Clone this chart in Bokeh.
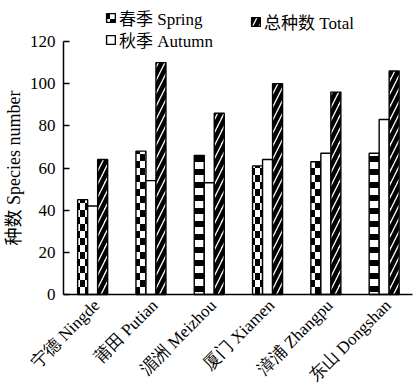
import math
from bokeh.plotting import figure
from bokeh.models import (FixedTicker, Legend, LegendItem, CanvasTexture,
                          ColumnDataSource, LabelSet, LinearAxis)
from bokeh.embed import file_html
from bokeh.resources import INLINE

# ---- data ----
sites = ["宁德 Ningde", "莆田 Putian", "湄洲 Meizhou", "厦门 Xiamen", "漳浦 Zhangpu", "东山 Dongshan"]
spring = [45, 68, 66, 61, 63, 67]
autumn = [42, 54, 53, 64, 67, 83]
total = [64, 110, 86, 100, 96, 106]
y_ticks = [0, 20, 40, 60, 80, 100, 120]

# ---- styles / layout ----
spring_hatch = ["checker", "checker", "stripes", "checker", "checker", "stripes"]
FONT = "'Liberation Serif', 'Noto Sans CJK SC'"
BW = 0.1715  # bar width in category units
W, H = 414, 391
# frame covers the whole canvas; axes are drawn at fixed data locations
X0, X1 = -0.5, 5.486          # extent of the drawn x axis
PX_L, PX_R = 63, 412          # pixel positions of X0, X1
Y0, Y1 = 0, 120
PY_B, PY_T = 294, 41          # pixel positions of Y0, Y1
ux = (PX_R - PX_L) / (X1 - X0)
uy = (PY_B - PY_T) / (Y1 - Y0)
x_range = (X0 - PX_L / ux, X1 + (W - PX_R) / ux)
y_range = (Y0 - (H - PY_B) / uy, Y1 + PY_T / uy)

checker = CanvasTexture(code="""
ctx.canvas.width = 10; ctx.canvas.height = 14;
ctx.fillStyle = color;
ctx.fillRect(0, 0, 5, 7);
ctx.fillRect(5, 7, 5, 7);
""")
stripes = CanvasTexture(code="""
ctx.canvas.width = 10; ctx.canvas.height = 13;
ctx.fillStyle = color;
ctx.fillRect(0, 0, 10, 6);
""")
specks = CanvasTexture(code="""
ctx.canvas.width = 10; ctx.canvas.height = 17;
ctx.fillStyle = color;
ctx.fillRect(7, 4, 2, 2);
ctx.fillRect(8, 8, 2, 2);
ctx.fillRect(6, 7, 1, 1);
""")

xs = list(range(len(sites)))
src = ColumnDataSource(dict(
    x_s=[x - BW for x in xs], x_a=xs, x_t=[x + BW for x in xs],
    spring=spring, autumn=autumn, total=total, sh=spring_hatch,
))
lab_src = ColumnDataSource(dict(x=xs, y=[0] * len(xs), text=sites))

p = figure(width=W, height=H, x_range=x_range, y_range=y_range,
           x_axis_location=None, y_axis_location=None,
           output_backend="svg", toolbar_location=None,
           min_border_left=0, min_border_right=0, min_border_top=0, min_border_bottom=0)
p.outline_line_color = None
p.xgrid.visible = False
p.ygrid.visible = False
p.background_fill_color = "white"

common = dict(width=BW, bottom=0, source=src, fill_color="white", line_color="black",
              line_width=1.4, hatch_color="black")
r_s = p.vbar(x="x_s", top="spring", hatch_pattern="sh",
             hatch_extra={"checker": checker, "stripes": stripes}, **common)
r_a = p.vbar(x="x_a", top="autumn", hatch_pattern="specks",
             hatch_extra={"specks": specks}, **common)
r_t = p.vbar(x="x_t", top="total", hatch_pattern="right_diagonal_line", hatch_scale=13,
             hatch_weight=4.5, **common)

# axes at fixed locations
xaxis = LinearAxis(fixed_location=Y0, bounds=(X0, X1), ticker=FixedTicker(ticks=[]),
                   axis_line_color="black", axis_line_width=1.5,
                   major_tick_line_color=None, minor_tick_line_color=None)
yaxis = LinearAxis(fixed_location=X0, bounds=(Y0, Y1), ticker=FixedTicker(ticks=y_ticks),
                   axis_line_color="black", axis_line_width=1.5,
                   major_tick_in=6, major_tick_out=0, major_tick_line_width=1.5,
                   minor_tick_line_color=None, major_label_standoff=8,
                   major_label_text_font=FONT, major_label_text_font_size="17px",
                   major_label_text_color="black",
                   axis_label="种数 Species number", axis_label_standoff=3,
                   axis_label_text_font=FONT, axis_label_text_font_size="18px",
                   axis_label_text_font_style="normal", axis_label_text_color="black")
p.add_layout(xaxis, "below")
p.add_layout(yaxis, "left")

# rotated category labels
labels = LabelSet(x="x", y="y", text="text", source=lab_src, angle=math.pi / 4,
                  text_align="right", text_baseline="middle", x_offset=4, y_offset=-8,
                  text_font=FONT, text_font_size="17px", text_color="black")
p.add_layout(labels)

def make_legend(label, renderer, left, center_y):
    return Legend(items=[LegendItem(label=label, renderers=[renderer], index=0)],
                  location=(left, H - center_y - 12), orientation="vertical",
                  padding=0, margin=0, spacing=0, border_line_color=None,
                  background_fill_alpha=0, glyph_width=11, glyph_height=11,
                  label_standoff=3, label_height=24,
                  label_text_font=FONT, label_text_font_size="17px", label_text_color="black")

p.add_layout(make_legend("春季 Spring", r_s, 105, 18), "center")
p.add_layout(make_legend("秋季 Autumn", r_a, 105, 39.5), "center")
p.add_layout(make_legend("总种数 Total", r_t, 250, 21.5), "center")

open("out.html", "w").write(file_html(p, INLINE))
